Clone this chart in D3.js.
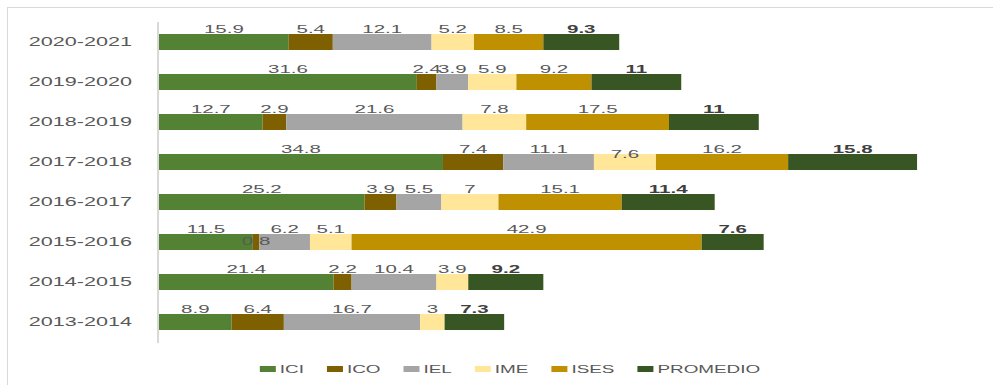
<!DOCTYPE html>
<html>
<head>
<meta charset="utf-8">
<script src="https://cdn.jsdelivr.net/npm/d3@7"></script>
<style>
  body { margin: 0; background: #fff; }
  text { font-family: "Liberation Sans", Arial, sans-serif; }
</style>
</head>
<body>
<div id="chart"></div>
<script>
// data
const years = ['2020-2021', '2019-2020', '2018-2019', '2017-2018', '2016-2017', '2015-2016', '2014-2015', '2013-2014']
const seriesNames = ['ICI', 'ICO', 'IEL', 'IME', 'ISES', 'PROMEDIO']
const ICI = [15.9, 31.6, 12.7, 34.8, 25.2, 11.5, 21.4, 8.9]
const ICO = [5.4, 2.4, 2.9, 7.4, 3.9, 0.8, 2.2, 6.4]
const IEL = [12.1, 3.9, 21.6, 11.1, 5.5, 6.2, 10.4, 16.7]
const IME = [5.2, 5.9, 7.8, 7.6, 7, 5.1, 3.9, 3]
const ISES = [8.5, 9.2, 17.5, 16.2, 15.1, 42.9, 0, 0]
const PROMEDIO = [9.3, 11, 11, 15.8, 11.4, 7.6, 9.2, 7.3]
const colors = ['#548235', '#7f6000', '#a5a5a5', '#ffe699', '#bf9000', '#375623']
// labels that Excel pushed down to avoid overlap
const labelNudge = [{ year: '2017-2018', key: 'IME', dy: 5 }, { year: '2015-2016', key: 'ICO', dy: 12 }]

const width = 993, height = 385

const table = years.map((y, i) => ({
  year: y, ICI: ICI[i], ICO: ICO[i], IEL: IEL[i], IME: IME[i], ISES: ISES[i], PROMEDIO: PROMEDIO[i]
}))

const svg = d3.select('#chart')
  .append('svg')
  .attr('width', width)
  .attr('height', height)

// outer frame
svg.append('rect')
  .attr('x', 7.5).attr('y', 7.5)
  .attr('width', 1000).attr('height', 400)
  .style('fill', 'none')
  .style('stroke', '#d9d9d9')

const x = d3.scaleLinear().domain([0, 100]).range([159, 975])
const y = d3.scaleBand().domain(years).range([22, 342]).paddingInner(0.6).paddingOuter(0.3)

const stack = d3.stack().keys(seriesNames)(table)

const layers = svg.append('g')
  .selectAll('g')
  .data(stack)
  .enter()
  .append('g')
  .style('fill', (d, i) => colors[i])

layers.selectAll('rect')
  .data(d => d.filter(s => s[1] - s[0] > 0))
  .enter()
  .append('rect')
  .attr('x', d => x(d[0]))
  .attr('y', d => y(d.data.year))
  .attr('width', d => x(d[1]) - x(d[0]))
  .attr('height', y.bandwidth())

// axis line
svg.append('line')
  .attr('x1', 158).attr('x2', 158)
  .attr('y1', 22).attr('y2', 343)
  .style('stroke', '#d9d9d9')
  .style('stroke-width', 2)

// stretched text helper (the original picture is stretched sideways)
function stretchText(parent, tx, ty, str, sx, opts) {
  const g = parent.append('g').attr('transform', `translate(${tx},${ty}) scale(${sx},1)`)
  const t = g.append('text').text(str)
    .attr('text-anchor', opts.anchor || 'middle')
    .attr('dy', opts.dy || 0)
    .style('font-size', opts.size + 'px')
    .style('fill', opts.fill || '#595959')
    .style('font-weight', opts.weight || 'normal')
  return t
}

// category labels
years.forEach(yr => {
  stretchText(svg, 132, y(yr) + y.bandwidth() / 2, yr, 1.8, { anchor: 'end', dy: '0.35em', size: 12 })
})

// value labels
const labels = svg.append('g')
stack.forEach(layer => {
  const key = layer.key
  layer.forEach(s => {
    const v = s.data[key]
    if (!v) return
    const yr = s.data.year
    const nudge = labelNudge.find(n => n.year === yr && n.key === key)
    const bold = key === 'PROMEDIO'
    stretchText(labels, (x(s[0]) + x(s[1])) / 2, y(yr) - 1 + (nudge ? nudge.dy : 0), String(v), 1.95, {
      size: 10.5,
      fill: bold ? '#404040' : '#595959',
      weight: bold ? 'bold' : 'normal'
    })
  })
})

// legend
const legend = svg.append('g')
const legendSx = 1.8
let lx = 0
seriesNames.forEach((name, i) => {
  const g = legend.append('g').attr('transform', `translate(${lx},0)`)
  g.append('rect')
    .attr('x', 0).attr('y', -3)
    .attr('width', 16).attr('height', 6)
    .style('fill', colors[i])
  const t = stretchText(g, 20, 0, name, legendSx, { anchor: 'start', dy: '0.35em', size: 10.5 })
  const w = t.node().getComputedTextLength() * legendSx
  lx += 20 + w + 23
})
const legendW = lx - 23
legend.attr('transform', `translate(${510 - legendW / 2},369)`)
</script>
</body>
</html>
